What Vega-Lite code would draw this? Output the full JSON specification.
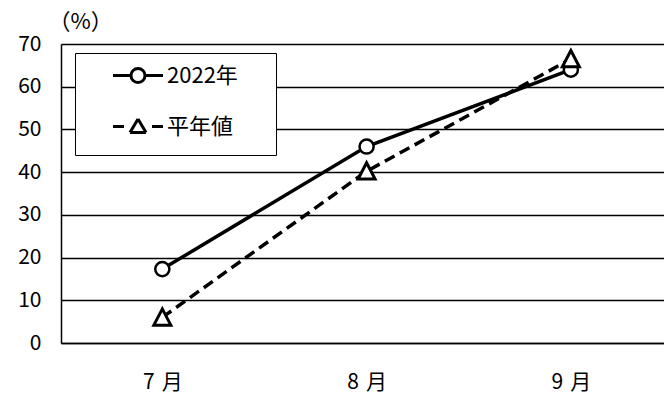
{
  "$schema": "https://vega.github.io/schema/vega-lite/v6.json",
  "width": 603,
  "height": 299,
  "autosize": {"type": "none"},
  "padding": {"left": 61, "top": 44, "right": 0, "bottom": 54},
  "background": "white",
  "config": {
    "view": {"stroke": null},
    "font": "Noto Sans CJK JP"
  },
  "data": {
    "values": [
      {"month": 7, "series": "2022年", "value": 17.3},
      {"month": 8, "series": "2022年", "value": 46.0},
      {"month": 9, "series": "2022年", "value": 64.0},
      {"month": 7, "series": "平年値", "value": 6.0},
      {"month": 8, "series": "平年値", "value": 40.2},
      {"month": 9, "series": "平年値", "value": 66.5}
    ]
  },
  "encoding": {
    "x": {
      "field": "month",
      "type": "quantitative",
      "scale": {"domain": [6.504, 9.456], "nice": false, "zero": false},
      "axis": {
        "title": null,
        "values": [7, 8, 9],
        "labelExpr": "datum.value + '\u2004月'",
        "labelAngle": 0,
        "ticks": false,
        "domainColor": "black",
        "domainWidth": 1.5,
        "labelFontSize": 21,
        "labelColor": "black",
        "labelPadding": 28,
        "grid": false
      }
    },
    "y": {
      "field": "value",
      "type": "quantitative",
      "scale": {"domain": [0, 70], "nice": false, "zero": true},
      "axis": {
        "values": [0, 10, 20, 30, 40, 50, 60, 70],
        "title": "（%）",
        "titleAngle": 0,
        "titleX": 19,
        "titleY": -23,
        "titleAlign": "center",
        "titleBaseline": "middle",
        "titleFontSize": 22,
        "titleFontWeight": "normal",
        "titleColor": "black",
        "ticks": false,
        "domainColor": "black",
        "domainWidth": 1.5,
        "grid": true,
        "gridColor": "black",
        "gridWidth": 1.5,
        "gridOpacity": 1,
        "labelFontSize": 21,
        "labelColor": "black",
        "labelPadding": 20
      }
    }
  },
  "layer": [
    {
      "transform": [{"filter": "datum.series === '2022年'"}],
      "encoding": {
        "stroke": {
          "field": "series",
          "type": "nominal",
          "scale": {"domain": ["2022年"], "range": ["black"]},
          "legend": {
            "title": null,
            "orient": "none",
            "legendX": 14,
            "legendY": 9,
            "zindex": 0,
            "symbolType": "M1.55,0H3.35M4.75,0H6.55M4.75,0A0.7,0.7 0 1 1 3.35,0A0.7,0.7 0 1 1 4.75,0ZM0,6.2L0,6.2M16.1,0L16.1,0",
            "symbolSize": 400,
            "symbolStrokeWidth": 3,
            "symbolFillColor": "white",
            "symbolOpacity": 1,
            "labelOffset": 58,
            "labelFontSize": 22,
            "labelColor": "black",
            "padding": 11,
            "fillColor": "white",
            "strokeColor": "black"
          }
        }
      },
      "layer": [
        {"mark": {"type": "line", "strokeWidth": 3.5}},
        {"mark": {"type": "point", "shape": "circle", "size": 200, "filled": false, "fill": "white", "fillOpacity": 1, "strokeWidth": 2.5}}
      ]
    },
    {
      "transform": [{"filter": "datum.series === '平年値'"}],
      "encoding": {
        "stroke": {
          "field": "series",
          "type": "nominal",
          "scale": {"domain": ["平年値"], "range": ["black"]},
          "legend": {
            "title": null,
            "orient": "none",
            "legendX": 14,
            "legendY": 60,
            "zindex": 1,
            "symbolType": "M1.55,0H2.65M5.45,0H6.55M4.05,-0.75L4.45,-0.075M4.45,-0.075L4.85,0.6M4.85,0.6L4.05,0.6M4.05,0.6L3.25,0.6M3.25,0.6L3.65,-0.075M3.65,-0.075L4.05,-0.75",
            "symbolSize": 400,
            "symbolStrokeWidth": 3,
            "symbolFillColor": "white",
            "symbolOpacity": 1,
            "labelOffset": 58,
            "labelFontSize": 22,
            "labelColor": "black",
            "padding": 11
          }
        }
      },
      "layer": [
        {"mark": {"type": "line", "strokeWidth": 3.5, "strokeDash": [11, 6]}},
        {"mark": {"type": "point", "shape": "M0,-1.2L1.2,1.1L-1.2,1.1Z", "size": 200, "filled": false, "fill": "white", "fillOpacity": 1, "strokeWidth": 3}}
      ]
    }
  ],
  "resolve": {"scale": {"stroke": "independent"}, "legend": {"stroke": "independent"}}
}
